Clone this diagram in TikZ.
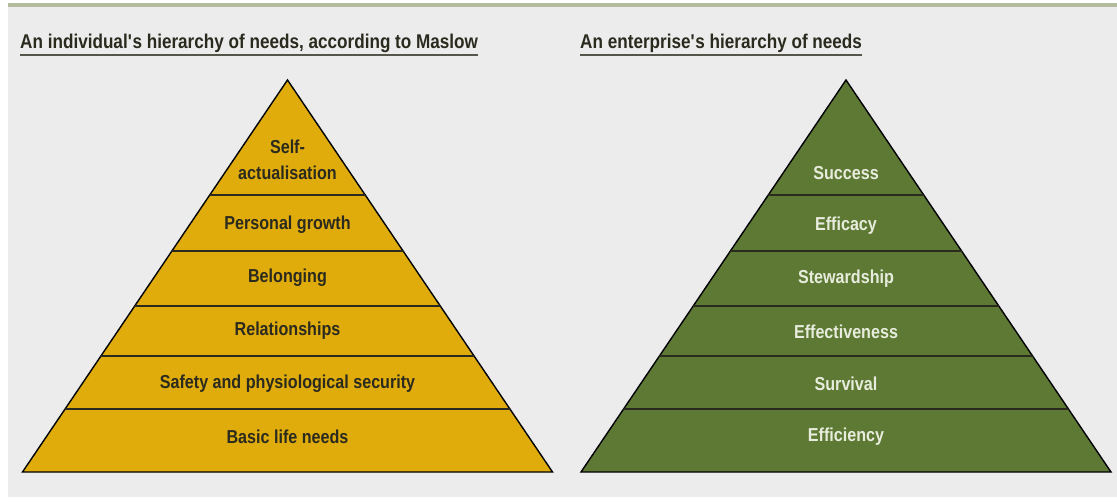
\documentclass[tikz,border=0pt]{standalone}
\usepackage{fontspec}
\setmainfont{Liberation Sans}[FakeStretch=0.86]
\usepackage{tikz}
\usetikzlibrary{positioning}
\definecolor{maslow}{HTML}{E0AC0C}
\definecolor{enterprise}{HTML}{5D7934}
\definecolor{paper}{HTML}{ECECEC}
\definecolor{band}{HTML}{B4BC9E}
\definecolor{ink}{HTML}{2B2A1E}
\definecolor{pale}{HTML}{E8ECDC}
\tikzset{
	tier/.style={font=\bfseries\fontsize{16}{22}\selectfont, align=center, inner sep=0pt},
	heading/.style={font=\bfseries\fontsize{17}{20}\selectfont, text=ink, anchor=base west, inner sep=0pt},
}
\newcommand{\pyramid}[2] % {x apex}{fill} apex at y=80, base at y=472
{
	\draw [line width=1.2pt, fill=#2] (#1,80) -- (#1+265,472) -- (#1-265,472) -- cycle;
	\begin{scope}
		\clip (#1,80) -- (#1+265,472) -- (#1-265,472) -- cycle;
		\foreach \y in {195,251,306,356,409}
			\draw [line width=1.5pt, ink] (#1-270,\y) -- (#1+270,\y);
	\end{scope}
}

\begin{document}
\begin{tikzpicture}[x=0.03cm, y=-0.03cm]
	\useasboundingbox (0,0) rectangle (1117,501);
	\fill [paper] (8,7) rectangle (1117,497);
	\fill [band] (8,3) rectangle (1117,7);

	% titles
	\node [heading] (indiv) at (20,48) {An individual\textquotesingle s hierarchy of needs, according to Maslow};
	\node [heading] (enter) at (580,48) {An enterprise\textquotesingle s hierarchy of needs};
	\draw [line width=1.2pt, ink!80] ([yshift=-6pt]indiv.base west) -- ([yshift=-6pt]indiv.base east);
	\draw [line width=1.2pt, ink!80] ([yshift=-6pt]enter.base west) -- ([yshift=-6pt]enter.base east);

	% Maslow
	\pyramid{287.5}{maslow}
	\node [tier, text=ink] (selfact) at (287.5,160) {Self-\\actualisation};
	\node [tier, text=ink] (growth) at (287.5,225) {Personal growth};
	\node [tier, text=ink] (belong) at (287.5,278) {Belonging};
	\node [tier, text=ink] (relate) at (287.5,331) {Relationships};
	\node [tier, text=ink] (safety) at (287.5,384) {Safety and physiological security};
	\node [tier, text=ink] (basic) at (287.5,437) {Basic life needs};

	% enterprise
	\pyramid{846}{enterprise}
	\node [tier, text=pale] (success) at (846,173) {Success};
	\node [tier, text=pale] (efficacy) at (846,226) {Efficacy};
	\node [tier, text=pale] (steward) at (846,279) {Stewardship};
	\node [tier, text=pale] (effective) at (846,332) {Effectiveness};
	\node [tier, text=pale] (survival) at (846,384) {Survival};
	\node [tier, text=pale] (efficiency) at (846,437) {Efficiency};
\end{tikzpicture}
\end{document}
